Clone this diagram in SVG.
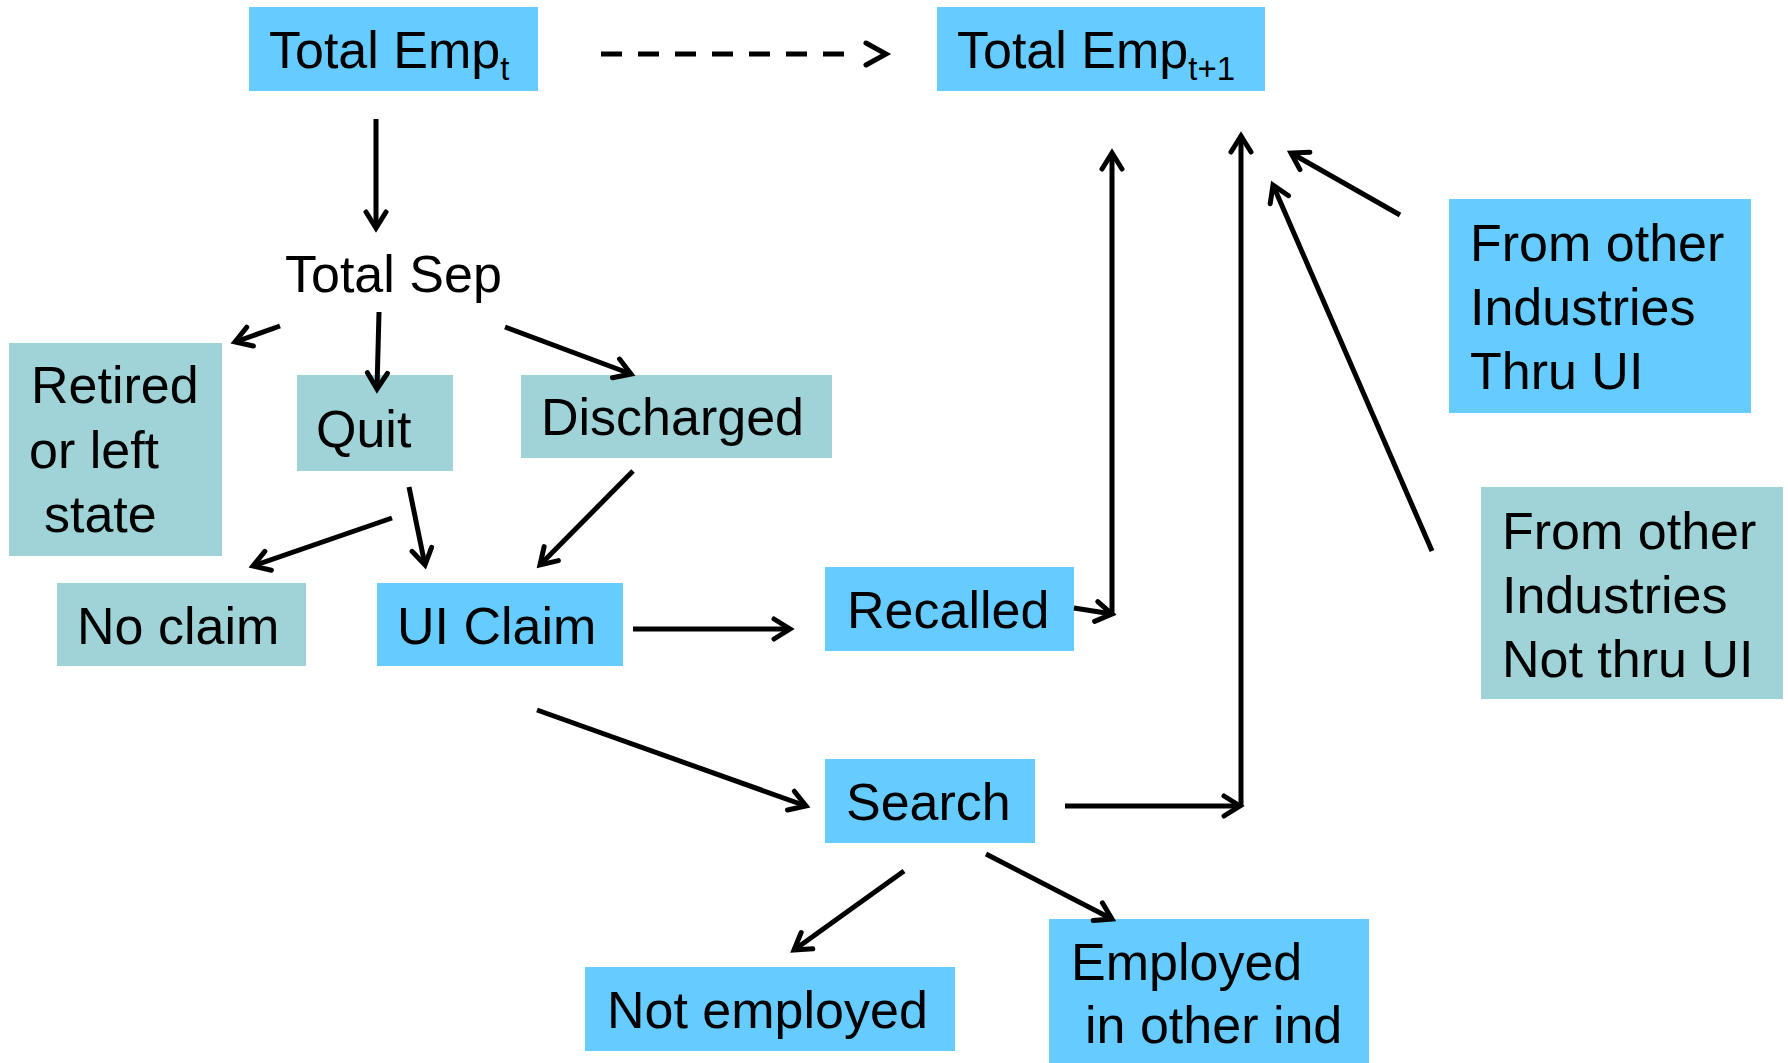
<svg xmlns="http://www.w3.org/2000/svg" width="1788" height="1063" viewBox="0 0 1788 1063">
<style>
.blue{fill:#66CCFF}
.teal{fill:#9FD3D7}
text{font-family:"Liberation Sans",Arial,sans-serif;font-size:52px;fill:#000}
.sub{font-size:33px}
.c{fill:none;stroke:#000;stroke-width:5}
</style>
<defs>
<marker id="ah" markerUnits="userSpaceOnUse" markerWidth="26" markerHeight="26" viewBox="0 0 26 26" refX="21" refY="13" orient="auto">
<path d="M5,3 L21,13 L5,23" fill="none" stroke="#000" stroke-width="5" stroke-linecap="round" stroke-linejoin="miter"/>
</marker>
</defs>
<rect width="1788" height="1063" fill="#fff"/>
<g id="total-emp-t"><rect class="blue" x="249" y="7" width="289" height="84"/><text x="269" y="68">Total Emp<tspan class="sub" dy="12">t</tspan></text></g>
<g id="total-emp-t1"><rect class="blue" x="937" y="7" width="328" height="84"/><text x="957" y="68">Total Emp<tspan class="sub" dy="12">t+1</tspan></text></g>
<g id="total-sep"><text x="285" y="292">Total Sep</text></g>
<g id="retired"><rect class="teal" x="9" y="343" width="213" height="213"/><text x="31" y="403">Retired</text><text x="29" y="468">or left</text><text x="44" y="532">state</text></g>
<g id="quit"><rect class="teal" x="297" y="375" width="156" height="96"/><text x="316" y="447">Quit</text></g>
<g id="discharged"><rect class="teal" x="521" y="375" width="311" height="83"/><text x="541" y="435">Discharged</text></g>
<g id="no-claim"><rect class="teal" x="57" y="583" width="249" height="83"/><text x="77" y="644">No claim</text></g>
<g id="ui-claim"><rect class="blue" x="377" y="583" width="246" height="83"/><text x="397" y="644">UI Claim</text></g>
<g id="recalled"><rect class="blue" x="825" y="567" width="249" height="84"/><text x="847" y="628">Recalled</text></g>
<g id="search"><rect class="blue" x="825" y="759" width="210" height="84"/><text x="846" y="820">Search</text></g>
<g id="not-employed"><rect class="blue" x="585" y="967" width="370" height="84"/><text x="607" y="1028">Not employed</text></g>
<g id="employed-other"><rect class="blue" x="1049" y="919" width="320" height="144"/><text x="1071" y="980">Employed</text><text x="1085" y="1043">in other ind</text></g>
<g id="thru-ui"><rect class="blue" x="1449" y="199" width="302" height="214"/><text x="1470" y="261">From other</text><text x="1470" y="325">Industries</text><text x="1470" y="389">Thru UI</text></g>
<g id="not-thru-ui"><rect class="teal" x="1481" y="487" width="302" height="212"/><text x="1502" y="549">From other</text><text x="1502" y="613">Industries</text><text x="1502" y="677">Not thru UI</text></g>
<g id="connectors">
<path class="c" d="M601,54 H845" stroke-width="5.5" stroke-dasharray="21 16"/>
<path class="c" d="M866,43 L886,54 L866,65" stroke-width="6" stroke-linecap="round"/>
<path class="c" d="M376,119 V228" marker-end="url(#ah)"/>
<path class="c" d="M280,326 L235,342" marker-end="url(#ah)"/>
<path class="c" d="M379,312 L377,389" marker-end="url(#ah)"/>
<path class="c" d="M505,327 L631,374" marker-end="url(#ah)"/>
<path class="c" d="M392,518 L253,566" marker-end="url(#ah)"/>
<path class="c" d="M409,487 L425,565" marker-end="url(#ah)"/>
<path class="c" d="M633,471 L540,565" marker-end="url(#ah)"/>
<path class="c" d="M633,629 H790" marker-end="url(#ah)"/>
<path class="c" d="M1074,608 L1112,614" marker-end="url(#ah)"/>
<path class="c" d="M1112,614 V153" marker-end="url(#ah)"/>
<path class="c" d="M537,710 L806,806" marker-end="url(#ah)"/>
<path class="c" d="M1065,806 H1240" marker-end="url(#ah)"/>
<path class="c" d="M1241,806 V136" marker-end="url(#ah)"/>
<path class="c" d="M904,871 L794,950" marker-end="url(#ah)"/>
<path class="c" d="M986,854 L1112,919" marker-end="url(#ah)"/>
<path class="c" d="M1400,215 L1291,153" marker-end="url(#ah)"/>
<path class="c" d="M1432,551 L1273,185" marker-end="url(#ah)"/>
</g>
</svg>
